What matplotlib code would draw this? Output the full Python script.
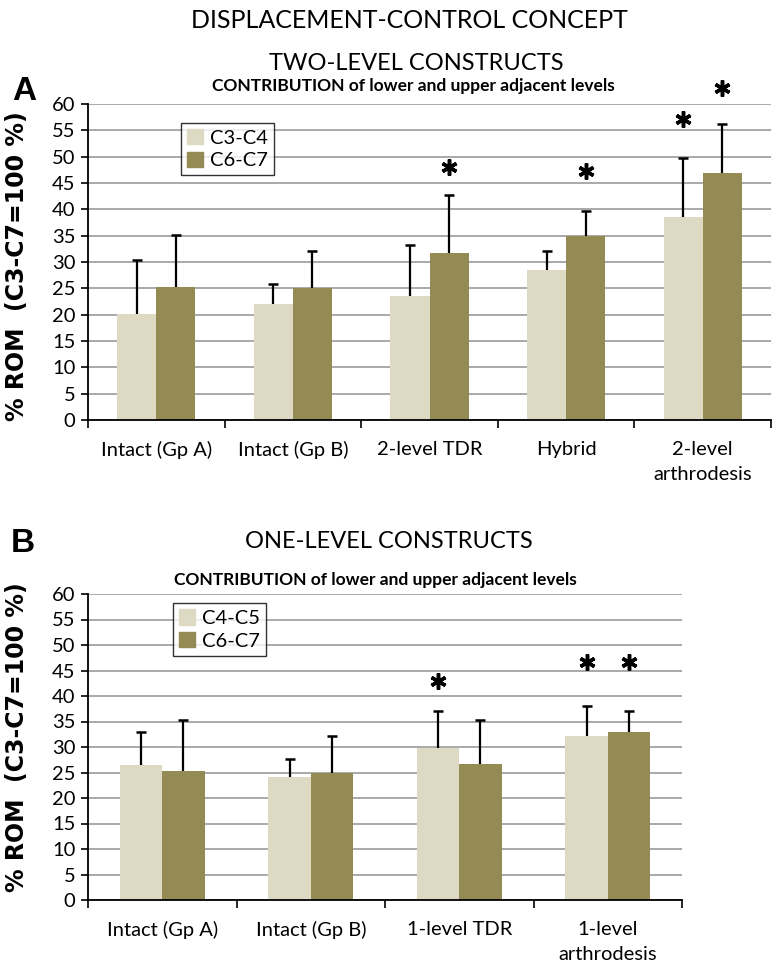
import numpy as np
import matplotlib.pyplot as plt
from matplotlib.patches import Patch

# panel A: two-level constructs
cats_a = ["Intact (Gp A)", "Intact (Gp B)", "2-level TDR", "Hybrid", "2-level\narthrodesis"]
c3c4 = [20.2, 22.0, 23.6, 28.4, 38.6]
c3c4_sd = [10.1, 3.9, 9.6, 3.7, 11.2]
c6c7_a = [25.2, 25.0, 31.8, 35.0, 46.9]
c6c7_a_sd = [10.0, 7.1, 11.0, 4.6, 9.3]
# significance stars: (category, series, height)
stars_a = [(2, 1, 48.0), (3, 1, 47.2), (4, 0, 57.1), (4, 1, 63.0)]

# panel B: one-level constructs
cats_b = ["Intact (Gp A)", "Intact (Gp B)", "1-level TDR", "1-level\narthrodesis"]
c4c5 = [26.4, 24.2, 29.8, 32.1]
c4c5_sd = [6.6, 3.5, 7.3, 5.9]
c6c7_b = [25.2, 25.0, 26.7, 33.0]
c6c7_b_sd = [10.1, 7.1, 8.5, 4.0]
stars_b = [(2, 0, 42.9), (3, 0, 46.7), (3, 1, 46.7)]

LIGHT = "#DDD9C3"
DARK = "#948A54"
SANS = ["Lato", "DejaVu Sans"]

W, H = 774, 965
fig = plt.figure(figsize=(W / 100, H / 100), dpi=100)


def panel(rect, cats, v1, e1, v2, e2, names, stars, leg_anchor):
    ax = fig.add_axes(rect)
    n = len(cats)
    x = np.arange(n)
    w = 1 / 3.5
    ax.set_axisbelow(True)
    ax.yaxis.grid(True, color="#a3a3a3", lw=1.3)
    for xs, vals, errs, col in [(x - w / 2, v1, e1, LIGHT), (x + w / 2, v2, e2, DARK)]:
        ax.bar(xs, vals, width=w, color=col, zorder=2)
        top = np.array(vals) + np.array(errs)
        ax.vlines(xs, vals, top, color="black", lw=1.6, zorder=3)
        ax.plot(xs, top, ls="none", marker="_", ms=6.5, mew=1.8, color="black", zorder=3)
    for ci, si, y in stars:
        xs = ci - w / 2 if si == 0 else ci + w / 2
        ax.plot(xs, y, marker=(6, 2, 0), ms=11.5, mew=2.5, color="black",
                clip_on=False, zorder=4)
    ax.set_xlim(-0.5, n - 0.5)
    ax.set_ylim(0, 60)
    ax.set_yticks(np.arange(0, 61, 5))
    ax.set_xticks(x)
    ax.set_xticklabels(cats, linespacing=1.55)
    ax.set_xticks(np.arange(n + 1) - 0.5, minor=True)
    ax.tick_params(axis="x", which="major", length=0, pad=15, labelsize=14.5)
    ax.tick_params(axis="x", which="minor", length=6, width=1.2, direction="out")
    ax.tick_params(axis="y", length=5, width=1.2, labelsize=14.5, pad=4)
    for lab in ax.get_xticklabels() + ax.get_yticklabels():
        lab.set_family(SANS)
    for s in ["top", "right"]:
        ax.spines[s].set_visible(False)
    for s in ["left", "bottom"]:
        ax.spines[s].set_linewidth(1.3)
    handles = [Patch(color=LIGHT), Patch(color=DARK)]
    leg = ax.legend(handles, names, loc="upper left", bbox_to_anchor=leg_anchor,
                    borderaxespad=0, frameon=True, fancybox=False,
                    handlelength=0.8, handleheight=0.8, handletextpad=0.35,
                    labelspacing=0.25, borderpad=0.3,
                    prop={"family": SANS, "size": 14.5})
    leg.get_frame().set_edgecolor("black")
    leg.get_frame().set_linewidth(1.0)
    return ax


def fx(px):
    return px / W


def fy(py):
    return 1 - py / H


panel([fx(88), fy(420), fx(771 - 88), (420 - 104) / H], cats_a,
      c3c4, c3c4_sd, c6c7_a, c6c7_a_sd, ["C3-C4", "C6-C7"], stars_a, (0.136, 0.94))
panel([fx(88), fy(900), fx(682 - 88), (900 - 594) / H], cats_b,
      c4c5, c4c5_sd, c6c7_b, c6c7_b_sd, ["C4-C5", "C6-C7"], stars_b, (0.143, 0.97))

fig.text(fx(409), fy(20), "DISPLACEMENT-CONTROL CONCEPT", ha="center", va="center",
         fontsize=18, family=SANS)
fig.text(fx(416), fy(64), "TWO-LEVEL CONSTRUCTS", ha="center", va="center",
         fontsize=17, family=SANS)
fig.text(fx(413), fy(86), "CONTRIBUTION of lower and upper adjacent levels",
         ha="center", va="center", fontsize=12.5, fontweight="bold", family=SANS)
fig.text(fx(389), fy(542), "ONE-LEVEL CONSTRUCTS", ha="center", va="center",
         fontsize=17, family=SANS)
fig.text(fx(375), fy(580), "CONTRIBUTION of lower and upper adjacent levels",
         ha="center", va="center", fontsize=12.5, fontweight="bold", family=SANS)

fig.text(fx(24), fy(92), "A", ha="center", va="center", fontsize=24,
         fontweight="bold", family="Liberation Sans")
fig.text(fx(23), fy(543), "B", ha="center", va="center", fontsize=24,
         fontweight="bold", family="Liberation Sans")

for yc in [266, 737]:
    fig.text(fx(17), fy(yc), "% ROM  (C3-C7=100 %)", ha="center", va="center",
             rotation=90, fontsize=17, fontweight="bold", family="DejaVu Sans")

fig.savefig("out.png", dpi=100)
